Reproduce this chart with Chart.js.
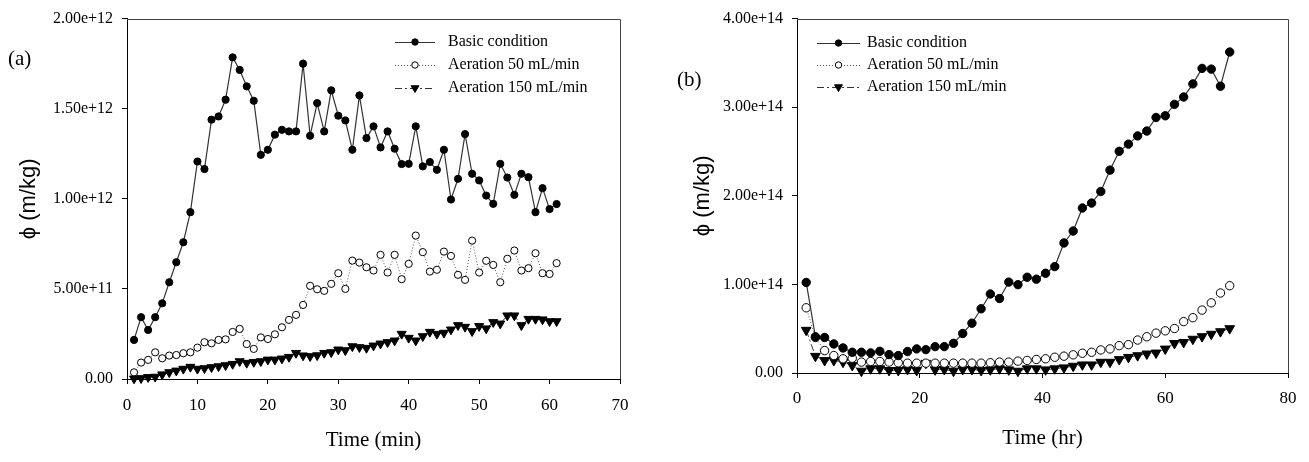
<!DOCTYPE html>
<html>
<head>
<meta charset="utf-8">
<script src="https://cdn.jsdelivr.net/npm/chart.js@4.4.1/dist/chart.umd.min.js"></script>
<style>
  body { margin: 0; background: #fff; width: 1309px; height: 462px; position: relative; overflow: hidden; }
  .box { position: absolute; top: 0; height: 462px; }
  #boxA { left: 0; width: 650px; }
  #boxB { left: 655px; width: 654px; }
  .tag { position: absolute; font: 21px "Liberation Serif", serif; line-height: 24px; color: #000; }
</style>
</head>
<body>
<div class="box" id="boxA"><canvas id="chartA"></canvas></div>
<div class="box" id="boxB"><canvas id="chartB"></canvas></div>
<div class="tag" style="left:8px;top:46px">(a)</div>
<div class="tag" style="left:677px;top:67px">(b)</div>
<script>
// series names
const seriesNames = ['Basic condition', 'Aeration 50 mL/min', 'Aeration 150 mL/min'];

// panel (a): time in min, phi in units of 1e12 m/kg
const unitA = 1e12;
const timeA = [1, 2, 3, 4, 5, 6, 7, 8, 9, 10, 11, 12, 13, 14, 15, 16, 17, 18, 19, 20,
  21, 22, 23, 24, 25, 26, 27, 28, 29, 30, 31, 32, 33, 34, 35, 36, 37, 38, 39, 40,
  41, 42, 43, 44, 45, 46, 47, 48, 49, 50, 51, 52, 53, 54, 55, 56, 57, 58, 59, 60, 61];
const basicA = [0.217, 0.343, 0.272, 0.343, 0.42, 0.537, 0.648, 0.759, 0.926, 1.207,
  1.165, 1.439, 1.457, 1.55, 1.785, 1.715, 1.624, 1.544, 1.244, 1.272,
  1.356, 1.383, 1.374, 1.374, 1.75, 1.35, 1.531, 1.374, 1.602, 1.461,
  1.435, 1.272, 1.574, 1.337, 1.402, 1.285, 1.374, 1.278, 1.193, 1.194,
  1.402, 1.18, 1.204, 1.161, 1.272, 0.996, 1.111, 1.359, 1.139, 1.102,
  1.018, 0.972, 1.194, 1.118, 1.022, 1.139, 1.12, 0.926, 1.059, 0.943, 0.971];
const aer50A = [0.037, 0.091, 0.106, 0.148, 0.115, 0.13, 0.133, 0.143, 0.148, 0.174,
  0.204, 0.198, 0.217, 0.22, 0.261, 0.278, 0.194, 0.167, 0.231, 0.222,
  0.248, 0.287, 0.328, 0.356, 0.411, 0.517, 0.498, 0.489, 0.528, 0.587,
  0.5, 0.657, 0.646, 0.62, 0.602, 0.689, 0.591, 0.689, 0.554, 0.639,
  0.796, 0.704, 0.596, 0.606, 0.707, 0.683, 0.578, 0.55, 0.768, 0.591,
  0.656, 0.633, 0.537, 0.667, 0.713, 0.602, 0.615, 0.698, 0.587, 0.583, 0.643];
const aer150A = [0.002, 0.004, 0.01, 0.012, 0.025, 0.037, 0.046, 0.056, 0.067, 0.056,
  0.059, 0.065, 0.07, 0.076, 0.083, 0.098, 0.089, 0.094, 0.098, 0.107,
  0.107, 0.113, 0.122, 0.144, 0.13, 0.126, 0.131, 0.144, 0.148, 0.163,
  0.159, 0.181, 0.176, 0.172, 0.185, 0.196, 0.204, 0.213, 0.25, 0.228,
  0.213, 0.237, 0.261, 0.25, 0.256, 0.274, 0.298, 0.289, 0.265, 0.293,
  0.28, 0.315, 0.307, 0.352, 0.352, 0.298, 0.333, 0.333, 0.33, 0.32, 0.32];

// panel (b): time in hr, phi in units of 1e14 m/kg
const unitB = 1e14;
const timeB = [1.5, 3, 4.5, 6, 7.5, 9, 10.5, 12, 13.5, 15, 16.5, 18, 19.5, 21, 22.5, 24,
  25.5, 27, 28.5, 30, 31.5, 33, 34.5, 36, 37.5, 39, 40.5, 42, 43.5, 45, 46.5, 48,
  49.5, 51, 52.5, 54, 55.5, 57, 58.5, 60, 61.5, 63, 64.5, 66, 67.5, 69, 70.5];
const basicB = [1.022, 0.409, 0.401, 0.328, 0.283, 0.234, 0.234, 0.227, 0.245, 0.208,
  0.197, 0.242, 0.272, 0.264, 0.298, 0.298, 0.335, 0.446, 0.562, 0.725,
  0.892, 0.841, 1.026, 0.997, 1.081, 1.059, 1.126, 1.201, 1.468, 1.602,
  1.862, 1.918, 2.048, 2.29, 2.502, 2.583, 2.676, 2.731, 2.884, 2.903,
  3.032, 3.115, 3.263, 3.438, 3.43, 3.237, 3.623];
const aer50B = [0.736, 0.401, 0.253, 0.197, 0.16, 0.167, 0.123, 0.13, 0.13, 0.123,
  0.116, 0.111, 0.111, 0.111, 0.111, 0.111, 0.111, 0.111, 0.111, 0.111,
  0.116, 0.123, 0.123, 0.134, 0.142, 0.153, 0.16, 0.178, 0.19, 0.205,
  0.223, 0.234, 0.26, 0.272, 0.309, 0.32, 0.372, 0.409, 0.45, 0.476,
  0.502, 0.58, 0.624, 0.71, 0.792, 0.903, 0.985];
const aer150B = [0.484, 0.19, 0.142, 0.142, 0.123, 0.086, 0.022, 0.049, 0.049, 0.03,
  0.03, 0.041, 0.03, 0.111, 0.037, 0.041, 0.022, 0.041, 0.041, 0.03,
  0.037, 0.049, 0.037, 0.022, 0.049, 0.049, 0.037, 0.049, 0.06, 0.078,
  0.093, 0.093, 0.123, 0.123, 0.153, 0.178, 0.197, 0.216, 0.227, 0.272,
  0.335, 0.346, 0.383, 0.412, 0.439, 0.468, 0.502];

const serif = '"Liberation Serif", "Times New Roman", serif';

function pts(xs, ys, unit) {
  return xs.map((x, i) => ({ x: x, y: ys[i] * unit }));
}

function makeSets(time, b, a50, a150, unit, big) {
  const r = big ? 4.2 : 3.6;
  return [
    {
      label: seriesNames[0], data: pts(time, b, unit),
      borderColor: '#333', borderWidth: 1.2,
      pointStyle: 'circle', pointRadius: r, pointBorderWidth: 1,
      pointBackgroundColor: '#000', pointBorderColor: '#000'
    },
    {
      label: seriesNames[1], data: pts(time, a50, unit),
      borderColor: '#555', borderWidth: 1, borderDash: [1, 2],
      pointStyle: 'circle', pointRadius: r, pointBorderWidth: 1,
      pointBackgroundColor: '#fff', pointBorderColor: '#000'
    },
    {
      label: seriesNames[2], data: pts(time, a150, unit),
      borderColor: '#333', borderWidth: 1, borderDash: [7, 3, 2, 3],
      pointStyle: 'triangle', pointRotation: 180, pointRadius: big ? 5.6 : 5.2,
      pointBorderWidth: 1, pointBackgroundColor: '#000', pointBorderColor: '#000'
    }
  ];
}

// frame on top/right + legend drawn inside the plot
const framePlugin = {
  id: 'frame',
  afterDraw(chart, args, opts) {
    const { ctx, chartArea: a } = chart;
    ctx.save();
    ctx.strokeStyle = '#444';
    ctx.lineWidth = 1;
    ctx.beginPath();
    ctx.moveTo(a.left, Math.round(a.top) + 0.5);
    ctx.lineTo(Math.round(a.right) + 0.5, Math.round(a.top) + 0.5);
    ctx.lineTo(Math.round(a.right) + 0.5, a.bottom);
    ctx.stroke();

    ctx.font = '16px ' + serif;
    ctx.textBaseline = 'middle';
    ctx.fillStyle = '#000';
    chart.data.datasets.forEach((ds, i) => {
      const y = opts.y + i * opts.gap;
      ctx.save();
      ctx.strokeStyle = ds.borderColor;
      ctx.lineWidth = ds.borderWidth;
      ctx.setLineDash(ds.borderDash || []);
      ctx.beginPath();
      ctx.moveTo(opts.x, y + 0.5);
      ctx.lineTo(opts.x + opts.len, y + 0.5);
      ctx.stroke();
      ctx.restore();
      ctx.fillStyle = ds.pointBackgroundColor;
      ctx.strokeStyle = ds.pointBorderColor;
      ctx.lineWidth = 1;
      Chart.helpers.drawPoint(ctx, {
        pointStyle: ds.pointStyle, rotation: ds.pointRotation || 0,
        radius: ds.pointStyle === 'triangle' ? 4.5 : 3.2, borderWidth: 1
      }, opts.x + opts.len / 2, y);
      ctx.fillStyle = '#000';
      ctx.fillText(ds.label, opts.textX, y);
    });
    ctx.restore();
  }
};

function sciLabel(v) {
  return v === 0 ? '0.00' : v.toExponential(2);
}

function makeChart(id, cfg) {
  return new Chart(document.getElementById(id), {
    type: 'line',
    data: { datasets: cfg.sets },
    plugins: [framePlugin],
    options: {
      responsive: true,
      maintainAspectRatio: false,
      devicePixelRatio: 1,
      animation: false,
      clip: false,
      layout: { padding: { top: cfg.top, right: cfg.right, left: 0, bottom: 0 } },
      elements: { line: { tension: 0 } },
      plugins: {
        legend: { display: false },
        tooltip: { enabled: false },
        frame: cfg.legend
      },
      scales: {
        x: {
          type: 'linear', min: 0, max: cfg.xMax,
          ticks: { stepSize: cfg.xStep, color: '#000', font: { family: serif, size: 17 }, padding: cfg.xPad },
          grid: { drawOnChartArea: false, drawTicks: true, tickLength: 5, tickColor: '#000' },
          border: { color: '#000', width: 1 },
          title: {
            display: true, text: cfg.xTitle, color: '#000',
            font: { family: serif, size: 21 }, padding: { top: 0, bottom: cfg.xTitlePad }
          },
          afterFit(s) { s.height = cfg.xHeight; }
        },
        y: {
          min: 0, max: cfg.yMax,
          ticks: { stepSize: cfg.yStep, color: '#000', font: { family: serif, size: 16 }, padding: 9, callback: sciLabel },
          grid: { drawOnChartArea: false, drawTicks: true, tickLength: 5, tickColor: '#000' },
          border: { color: '#000', width: 1 },
          title: {
            display: true, text: 'ϕ (m/kg)', color: '#000',
            font: { family: '"Liberation Sans", Arial, sans-serif', size: 22 },
            padding: { top: cfg.yTitlePad, bottom: 0 }
          },
          afterFit(s) { s.width = cfg.yWidth; }
        }
      }
    }
  });
}

makeChart('chartA', {
  sets: makeSets(timeA, basicA, aer50A, aer150A, unitA, false),
  top: 16, right: 30, xHeight: 83, yWidth: 127,
  xMax: 70, xStep: 10, xPad: 11, xTitle: 'Time (min)', xTitlePad: 9,
  yMax: 2e12, yStep: 5e11, yTitlePad: 16,
  legend: { x: 395, len: 40, textX: 448, y: 42, gap: 23 }
});

makeChart('chartB', {
  sets: makeSets(timeB, basicB, aer50B, aer150B, unitB, true),
  top: 14, right: 21, xHeight: 89, yWidth: 142,
  xMax: 80, xStep: 20, xPad: 10, xTitle: 'Time (hr)', xTitlePad: 11,
  yMax: 4e14, yStep: 1e14, yTitlePad: 35,
  legend: { x: 162, len: 43, textX: 212, y: 43, gap: 22 }
});
</script>
</body>
</html>
